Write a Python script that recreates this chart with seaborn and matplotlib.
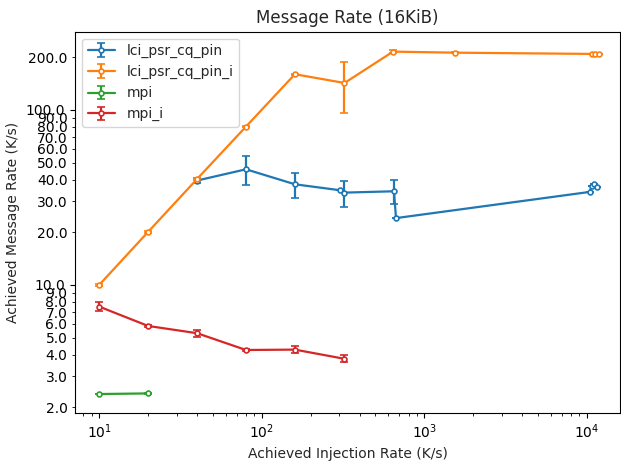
import matplotlib
matplotlib.use("Agg")
import matplotlib.pyplot as plt
from matplotlib.ticker import FormatStrFormatter
import seaborn as sns

# Injection rate (K/s), achieved message rate (K/s) and its spread per configuration
pin_x = [40, 80, 160, 301, 323, 651, 670, 10400, 10700, 11000, 11500]
pin_y = [39.5, 45.8, 37.6, 34.8, 33.7, 34.3, 24.1, 34.0, 36.8, 37.6, 36.2]
pin_err = [1.5, 8.5, 6.0, 0.0, 5.8, 5.3, 0.0, 0.0, 0.0, 0.0, 0.0]

pin_i_x = [10, 20, 40, 80, 160, 323, 642, 1545, 10800, 11230, 11820]
pin_i_y = [10.0, 20.1, 40.3, 80.3, 160.0, 142.6, 215.4, 212.5, 209.0, 210.0, 209.0]
pin_i_err = [0.1, 0.2, 0.5, 0.5, 1.0, 46.0, 4.0, 1.0, 1.0, 1.0, 1.0]

mpi_x = [10, 20]
mpi_y = [2.38, 2.40]
mpi_err = [0.01, 0.01]

mpi_i_x = [10, 20, 40, 80, 160, 320]
mpi_i_y = [7.52, 5.83, 5.30, 4.25, 4.27, 3.79]
mpi_i_err = [0.42, 0.08, 0.24, 0.08, 0.20, 0.17]

series = [
    ("lci_psr_cq_pin", pin_x, pin_y, pin_err),
    ("lci_psr_cq_pin_i", pin_i_x, pin_i_y, pin_i_err),
    ("mpi", mpi_x, mpi_y, mpi_err),
    ("mpi_i", mpi_i_x, mpi_i_y, mpi_i_err),
]

sns.set_style("ticks")
plt.rcParams["font.family"] = ["DejaVu Sans"]
colors = sns.color_palette("tab10", 4)

fig, ax = plt.subplots(figsize=(6.21, 4.63), dpi=100)
fig.subplots_adjust(left=75 / 621, right=620 / 621, bottom=1 - 412.7 / 463, top=1 - 31.7 / 463)

for (name, xs, ys, es), c in zip(series, colors):
    ax.errorbar(xs, ys, yerr=es, label=name, color=c, marker="o", markersize=3.5,
                markerfacecolor="white", markeredgecolor=c, markeredgewidth=1.2,
                linewidth=1.6, capsize=3, elinewidth=1.6, capthick=1.6)

ax.set_xscale("log")
ax.set_yscale("log")
ax.set_xlim(7.1, 16000)
ax.set_ylim(1.862, 280)
ax.yaxis.set_major_formatter(FormatStrFormatter("%.1f"))
ax.yaxis.set_minor_formatter(FormatStrFormatter("%.1f"))
for sp in ax.spines.values():
    sp.set_visible(True)
    sp.set_color("black")
ax.tick_params(colors="black", which="both")

ax.set_title("Message Rate (16KiB)", fontsize=12)
ax.set_xlabel("Achieved Injection Rate (K/s)", fontsize=10)
ax.set_ylabel("Achieved Message Rate (K/s)", fontsize=10)
ax.legend(loc="upper left", fontsize=10)

fig.savefig("out.png", dpi=100)
